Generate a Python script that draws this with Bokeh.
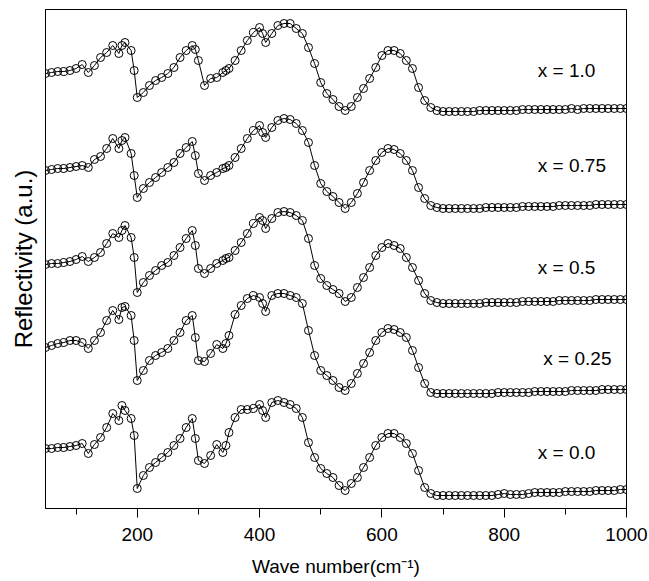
from bokeh.plotting import figure
from bokeh.models import Range1d, SingleIntervalTicker, FixedTicker, Label
from bokeh.embed import file_html
from bokeh.resources import INLINE

# wave number grid (cm^-1)
wavenumber = [50, 60, 70, 80, 90, 100, 110, 120, 130, 140, 150, 160, 170, 175, 180, 190, 195, 200,
              210, 220, 230, 240, 250, 260, 270, 280, 290, 295, 300, 310, 320, 330, 340, 345,
              350, 360, 370, 380, 390, 400, 405, 410, 420, 430, 440, 450, 460, 470, 480, 490,
              500, 510, 520, 530, 540, 550, 560, 570, 580, 590, 600, 610, 620, 630, 640, 650,
              660, 670, 680, 690, 700, 710, 720, 730, 740, 750, 760, 770, 780, 790, 800, 810,
              820, 830, 840, 850, 860, 870, 880, 890, 900, 910, 920, 930, 940, 950, 960, 970,
              980, 990, 1000]

# reflectivity (a.u., vertically offset spectra)
refl_x100 = [435, 436, 437, 437, 438, 440, 444, 436, 443, 451, 456, 463, 455, 463, 466, 458, 438, 411,
             416, 423, 428, 431, 435, 441, 451, 458, 463, 459, 448, 423, 430, 431, 436, 438,
             440, 448, 458, 468, 476, 481, 475, 466, 475, 483, 485, 485, 480, 475, 461, 445,
             426, 415, 409, 402, 398, 402, 411, 420, 430, 441, 453, 458, 458, 455, 448, 440,
             421, 408, 401, 398, 397, 397, 397, 397, 397, 397, 398, 398, 398, 398, 398, 398,
             398, 399, 399, 399, 399, 399, 399, 399, 399, 400, 399, 400, 400, 400, 400, 400,
             400, 400, 400]
refl_x075 = [338, 339, 340, 340, 341, 342, 343, 341, 349, 352, 360, 370, 360, 368, 371, 355, 333, 311,
             320, 326, 331, 336, 341, 346, 355, 361, 367, 353, 335, 328, 333, 336, 340, 341,
             343, 351, 360, 370, 378, 383, 376, 371, 381, 388, 390, 389, 385, 378, 366, 343,
             325, 317, 312, 306, 300, 306, 315, 326, 338, 348, 356, 360, 359, 355, 348, 338,
             321, 310, 303, 301, 300, 300, 300, 300, 300, 300, 300, 301, 301, 301, 301, 301,
             301, 302, 302, 302, 302, 302, 302, 303, 303, 303, 303, 303, 303, 304, 304, 304,
             304, 304, 304]
refl_x050 = [244, 245, 245, 246, 247, 249, 252, 247, 251, 256, 265, 275, 271, 278, 283, 271, 251, 216,
             226, 233, 238, 243, 246, 253, 261, 270, 278, 263, 240, 235, 240, 245, 248, 250,
             251, 258, 266, 275, 285, 291, 288, 280, 290, 296, 297, 296, 293, 288, 270, 243,
             230, 223, 219, 215, 207, 211, 221, 231, 241, 253, 261, 265, 263, 260, 251, 241,
             228, 215, 208, 206, 205, 205, 205, 205, 205, 205, 205, 206, 206, 206, 206, 206,
             206, 207, 207, 207, 207, 207, 207, 208, 208, 208, 208, 208, 208, 209, 209, 209,
             209, 209, 209]
refl_x025 = [161, 163, 165, 166, 168, 168, 166, 160, 168, 176, 188, 198, 189, 201, 202, 193, 168, 128,
             138, 148, 153, 156, 160, 168, 176, 188, 193, 171, 148, 147, 155, 164, 160, 165,
             173, 194, 203, 210, 213, 211, 205, 197, 213, 215, 215, 213, 211, 205, 178, 153,
             138, 133, 128, 121, 118, 125, 135, 145, 156, 168, 176, 180, 179, 176, 171, 158,
             141, 125, 116, 115, 115, 115, 115, 115, 115, 115, 115, 115, 115, 116, 116, 116,
             116, 116, 116, 117, 117, 117, 117, 117, 117, 118, 118, 118, 118, 118, 119, 119,
             119, 119, 119]
refl_x000 = [60, 60, 61, 61, 62, 63, 65, 55, 64, 71, 81, 95, 88, 103, 98, 90, 73, 20,
             33, 41, 46, 51, 56, 63, 70, 81, 90, 70, 48, 45, 53, 64, 56, 63,
             76, 91, 99, 99, 100, 104, 98, 91, 106, 108, 106, 104, 100, 91, 66, 51,
             40, 35, 31, 23, 18, 25, 31, 41, 51, 63, 71, 75, 75, 71, 65, 55,
             38, 21, 15, 13, 13, 13, 13, 13, 13, 13, 13, 13, 13, 14, 15, 14,
             14, 14, 15, 16, 16, 16, 16, 16, 17, 17, 17, 17, 17, 18, 18, 18,
             18, 19, 19]

series = [refl_x100, refl_x075, refl_x050, refl_x025, refl_x000]
series_labels = ["x = 1.0", "x = 0.75", "x = 0.5", "x = 0.25", "x = 0.0"]

FONT = "Liberation Sans"

p = figure(width=649, height=581, output_backend="svg", toolbar_location=None,
           x_range=Range1d(50, 1000), y_range=Range1d(0, 499),
           min_border_left=45, min_border_right=23, min_border_top=9, min_border_bottom=73)
p.background_fill_color = "white"
p.border_fill_color = "white"
p.outline_line_color = "black"
p.outline_line_width = 1
p.grid.visible = False

for ys in series:
    n = min(len(wavenumber), len(ys))
    xs = wavenumber[:n]
    yv = ys[:n]
    p.line(xs, yv, line_color="black", line_width=1)
    p.scatter(xs, yv, marker="circle", size=8, line_color="black", fill_color=None, line_width=1)

# x axis
p.xaxis.ticker = SingleIntervalTicker(interval=200, num_minor_ticks=2)
p.xaxis.axis_label = "Wave number(cm\u207b\u00b9)"
p.xaxis.axis_label_text_font = FONT
p.xaxis.axis_label_text_font_style = "normal"
p.xaxis.axis_label_text_font_size = "19px"
p.xaxis.axis_label_text_color = "black"
p.xaxis.axis_label_standoff = 12
p.xaxis.major_label_text_font = FONT
p.xaxis.major_label_text_font_size = "19px"
p.xaxis.major_label_text_color = "black"
p.xaxis.major_label_standoff = 10
p.xaxis.major_tick_out = 9
p.xaxis.major_tick_in = 0
p.xaxis.minor_tick_out = 6
p.xaxis.minor_tick_in = 0
p.xaxis.axis_line_color = "black"
p.xaxis.major_tick_line_color = "black"
p.xaxis.minor_tick_line_color = "black"

# y axis
p.yaxis.ticker = FixedTicker(ticks=[])
p.yaxis.major_label_text_font_size = "0px"
p.yaxis.major_label_standoff = 0
p.yaxis.major_tick_out = 0
p.yaxis.major_tick_in = 0
p.yaxis.minor_tick_out = 0
p.yaxis.minor_tick_in = 0
p.yaxis.axis_label = "Reflectivity (a.u.)"
p.yaxis.axis_label_text_font = FONT
p.yaxis.axis_label_text_font_style = "normal"
p.yaxis.axis_label_text_font_size = "24px"
p.yaxis.axis_label_text_color = "black"
p.yaxis.axis_label_standoff = 9
p.yaxis.axis_line_color = "black"

label_pos = [(855, 438), (855, 343), (855, 241), (864, 150), (855, 56)]
for txt, (lx, ly) in zip(series_labels, label_pos):
    p.add_layout(Label(x=lx, y=ly, text=txt, text_font=FONT, text_font_size="19px",
                       text_color="black", text_baseline="middle", text_align="left"))

open("out.html", "w").write(file_html(p, INLINE))
